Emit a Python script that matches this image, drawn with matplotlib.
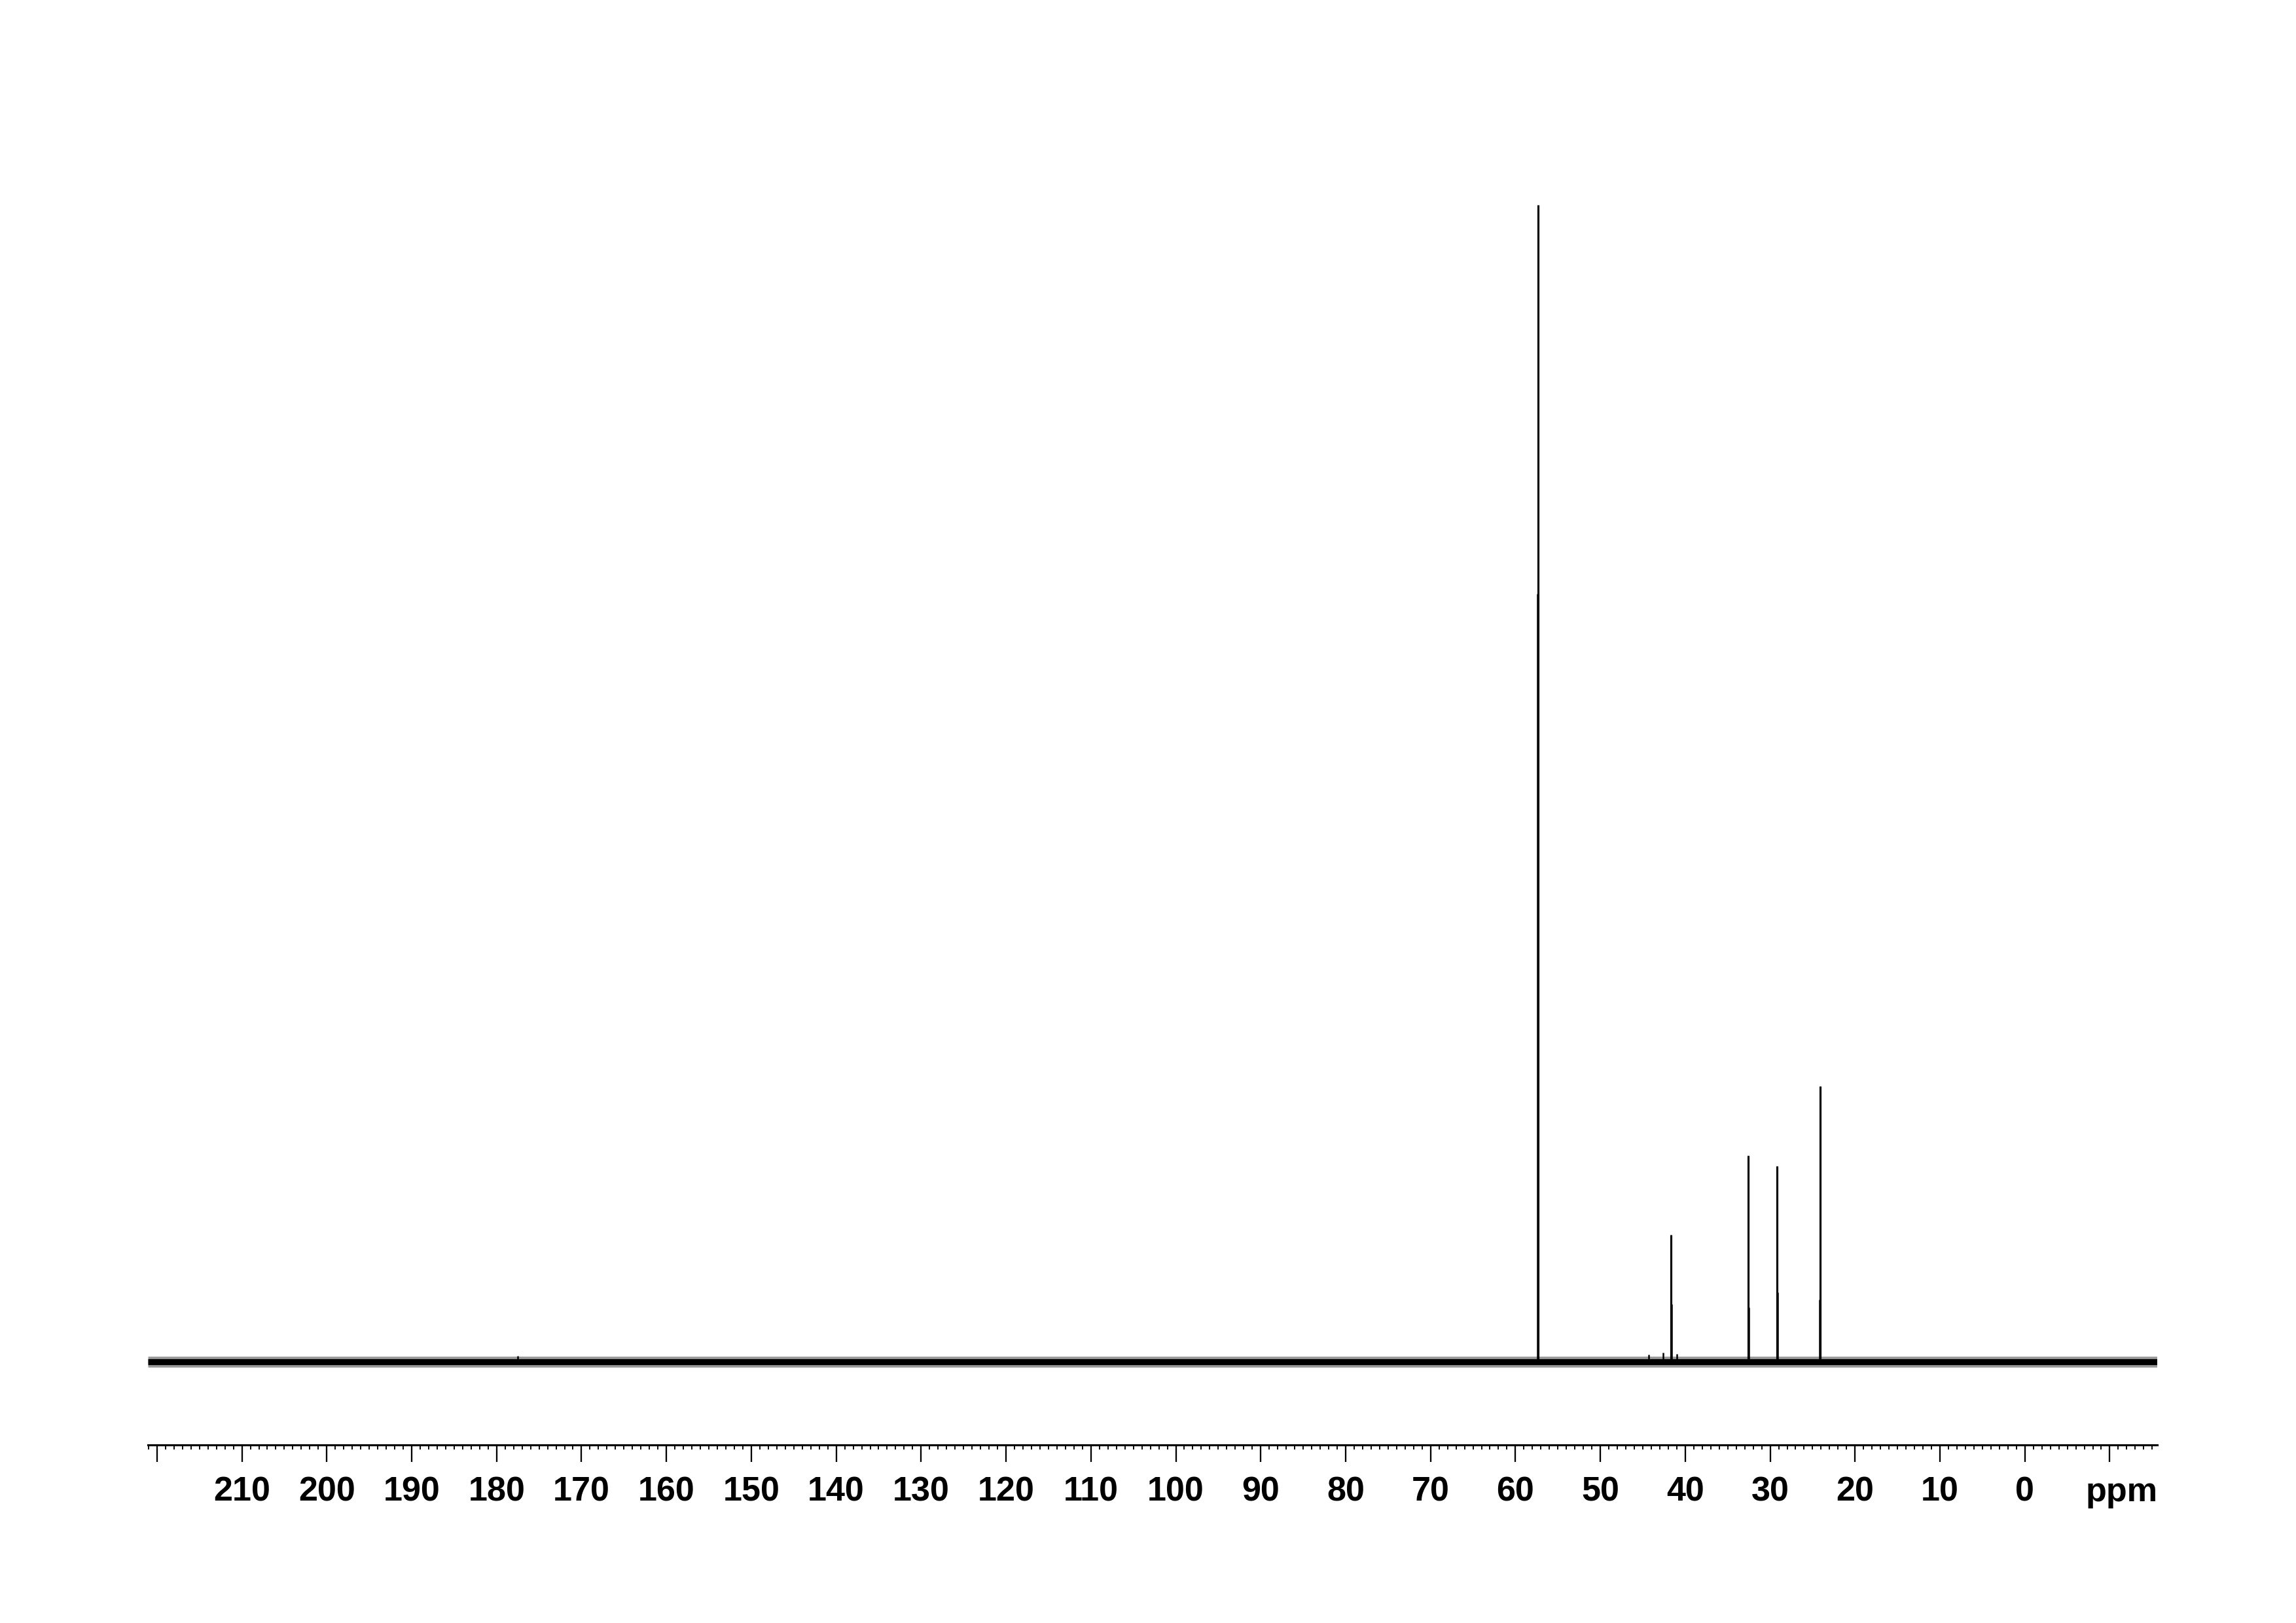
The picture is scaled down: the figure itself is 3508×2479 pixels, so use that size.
import matplotlib
matplotlib.use("Agg")
import matplotlib.pyplot as plt
from matplotlib.ticker import MultipleLocator

plt.rcParams['font.family'] = ['Liberation Sans', 'DejaVu Sans']

# 13C spectrum (tallest line = 100)
spec_window = [221.1, -15.6]
peak_ppm = [57.3, 41.7, 32.6, 29.2, 24.1]
peak_int = [100.0, 11.0, 17.8, 16.9, 23.8]
# lower edge of each line (the peaks are drawn as two close points)
edge_ppm = [57.38, 41.62, 32.52, 29.12, 24.18]
edge_int = [66.4, 5.0, 4.7, 6.0, 5.4]
# small stuff sticking out of the noise
small_ppm = [177.5, 44.3, 42.6, 41.0]
small_int = [0.5, 0.6, 0.8, 0.7]

tick_vals = list(range(220, -11, -10))
tick_labels = ["" if (v == 220 or v == -10) else str(v) for v in tick_vals]

fig = plt.figure(figsize=(3508 / 300, 2479 / 300), dpi=300)
ax = fig.add_axes([0.0643, 0.1097, 0.8753, 0.7895])

# baseline noise band
ax.hlines(0, spec_window[0], spec_window[1], color="0.6", lw=4.0)
ax.hlines(0, spec_window[0], spec_window[1], color="black", lw=2.2)
ax.vlines(peak_ppm, 0, peak_int, color="black", lw=0.75)
ax.vlines(edge_ppm, 0, edge_int, color="black", lw=0.6)
ax.vlines(small_ppm, 0, small_int, color="black", lw=0.6)

ax.set_xlim(spec_window[0], spec_window[1])
ax.set_ylim(-7.19, 103.56)

for s in ["left", "top", "right"]:
    ax.spines[s].set_visible(False)
ax.spines["bottom"].set_linewidth(0.75)
ax.set_yticks([])

ax.set_xticks(tick_vals + [-11.4])
ax.set_xticklabels(tick_labels + ["ppm"], fontsize=12.5, fontweight="bold")
ax.xaxis.set_minor_locator(MultipleLocator(1))
ax.tick_params(axis="x", which="major", length=6.2, width=0.55, pad=5.2)
ax.tick_params(axis="x", which="minor", length=1.7, width=0.45)
for t in ax.xaxis.get_major_ticks():
    if abs(t.get_loc() + 11.4) < 0.01:
        t.tick1line.set_visible(False)

fig.savefig("out.png", dpi=300, facecolor="white")
